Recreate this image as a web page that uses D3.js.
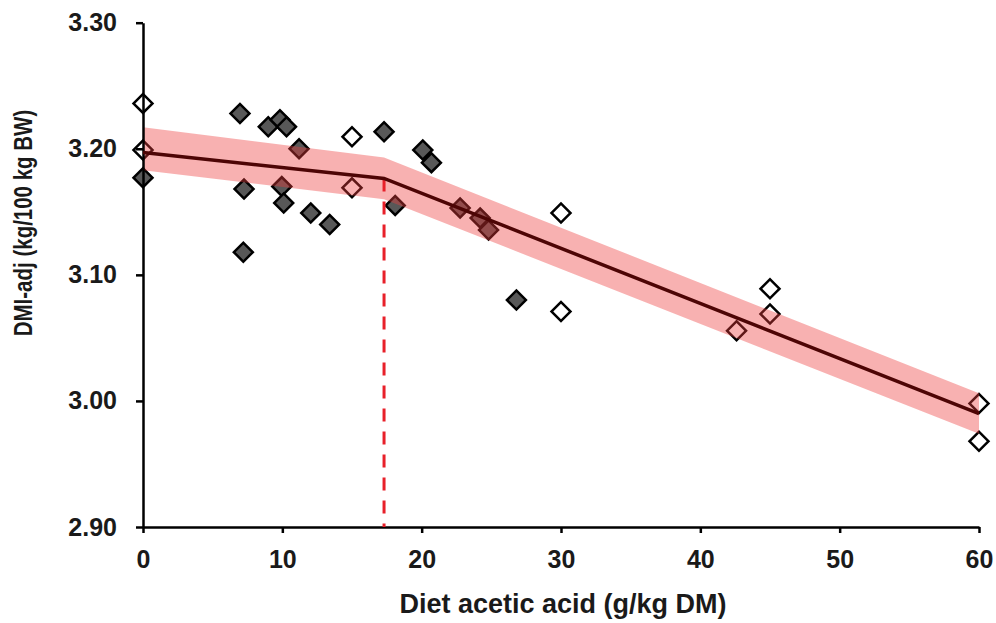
<!DOCTYPE html>
<html>
<head>
<meta charset="utf-8">
<script src="https://cdn.jsdelivr.net/npm/d3@7"></script>
<style>
  body { margin: 0; background: #fff; }
  text { font-family: "Liberation Sans", Arial, sans-serif; font-weight: bold; fill: #1a1a1a; }
</style>
</head>
<body>
<div id="chart"></div>
<script>
// observed diets: diet acetic acid (g/kg DM) vs DMI-adj (kg/100 kg BW)
var filledX = [0, 6.96, 8.99, 9.83, 10.3, 11.2, 7.25, 9.96, 10.1, 12.04, 13.4, 7.2, 17.3, 18.1, 20.08, 20.7, 22.76, 24.2, 24.8, 26.8];
var filledY = [3.177, 3.228, 3.2175, 3.223, 3.2175, 3.200, 3.168, 3.170, 3.157, 3.149, 3.140, 3.118, 3.2135, 3.155, 3.199, 3.189, 3.153, 3.145, 3.1355, 3.080];

var openX = [0, 0, 15, 15, 30, 30, 42.6, 45, 45, 60, 60];
var openY = [3.236, 3.199, 3.2095, 3.169, 3.149, 3.071, 3.0556, 3.089, 3.069, 2.998, 2.968];

// broken-line fit and its confidence band
var fitX = [0, 17.3, 60];
var fitY = [3.197, 3.1765, 2.990];
var bandUpper = [3.217, 3.193, 3.006];
var bandLower = [3.183, 3.160, 2.974];
var breakX = 17.3;

var xTicks = [0, 10, 20, 30, 40, 50, 60];
var yTicks = [2.90, 3.00, 3.10, 3.20, 3.30];

var width = 996, height = 623;

var svg = d3.select("#chart").append("svg")
    .attr("width", width)
    .attr("height", height);

var x = d3.scaleLinear().domain([0, 60]).range([143, 979]);
var y = d3.scaleLinear().domain([2.90, 3.30]).range([527, 22.7]);

// points
var diamond = d3.symbol().type(d3.symbolSquare).size(180);

var filled = filledX.map(function(v, i) { return {x: v, y: filledY[i]}; });
var open = openX.map(function(v, i) { return {x: v, y: openY[i]}; });

svg.append("g").selectAll("path")
    .data(filled).enter()
    .append("path")
    .attr("d", diamond)
    .attr("transform", function(d) { return "translate(" + x(d.x) + "," + y(d.y) + ") rotate(45)"; })
    .attr("fill", "#585858")
    .attr("stroke", "#000")
    .attr("stroke-width", 2.5);

svg.append("g").selectAll("path")
    .data(open).enter()
    .append("path")
    .attr("d", diamond)
    .attr("transform", function(d) { return "translate(" + x(d.x) + "," + y(d.y) + ") rotate(45)"; })
    .attr("fill", "#fff")
    .attr("stroke", "#000")
    .attr("stroke-width", 2.5);

// band over the points
var band = fitX.map(function(v, i) { return {x: v, lo: bandLower[i], hi: bandUpper[i]}; });
var area = d3.area()
    .x(function(d) { return x(d.x); })
    .y0(function(d) { return y(d.lo); })
    .y1(function(d) { return y(d.hi); });

svg.append("path")
    .datum(band)
    .attr("d", area)
    .attr("fill", "#ee3b3b")
    .attr("opacity", 0.4);

// axes
var xAxis = d3.axisBottom(x).tickValues(xTicks).tickSize(6).tickSizeOuter(0).tickPadding(17);
var yAxis = d3.axisLeft(y).tickValues(yTicks).tickSize(7).tickSizeOuter(0).tickPadding(19)
    .tickFormat(d3.format(".2f"));

var gx = svg.append("g").attr("transform", "translate(0," + y(2.90) + ")").call(xAxis);
var gy = svg.append("g").attr("transform", "translate(" + x(0) + ",0)").call(yAxis);

[gx, gy].forEach(function(g) {
    g.selectAll("path, line").attr("stroke", "#000").attr("stroke-width", 2.5);
    g.selectAll("text").attr("font-size", 25).attr("fill", "#1a1a1a")
        .attr("font-family", "'Liberation Sans', Arial, sans-serif").attr("font-weight", "bold");
});

// dashed breakpoint marker
svg.append("line")
    .attr("x1", x(breakX)).attr("x2", x(breakX))
    .attr("y1", y(fitY[1])).attr("y2", y(2.90))
    .attr("stroke", "#e8202a")
    .attr("stroke-width", 3)
    .attr("stroke-dasharray", "13,10");

// fitted line
var line = d3.line()
    .x(function(d, i) { return x(d); })
    .y(function(d, i) { return y(fitY[i]); });

svg.append("path")
    .datum(fitX)
    .attr("d", line)
    .attr("fill", "none")
    .attr("stroke", "#4d0505")
    .attr("stroke-width", 3.5);

// titles
svg.append("text")
    .attr("x", 563).attr("y", 613)
    .attr("text-anchor", "middle")
    .attr("font-size", 27)
    .text("Diet acetic acid (g/kg DM)");

svg.append("text")
    .attr("transform", "translate(32,223) rotate(-90) scale(1,1.25)")
    .attr("text-anchor", "middle")
    .attr("font-size", 20.5)
    .text("DMI-adj (kg/100 kg BW)");
</script>
</body>
</html>
